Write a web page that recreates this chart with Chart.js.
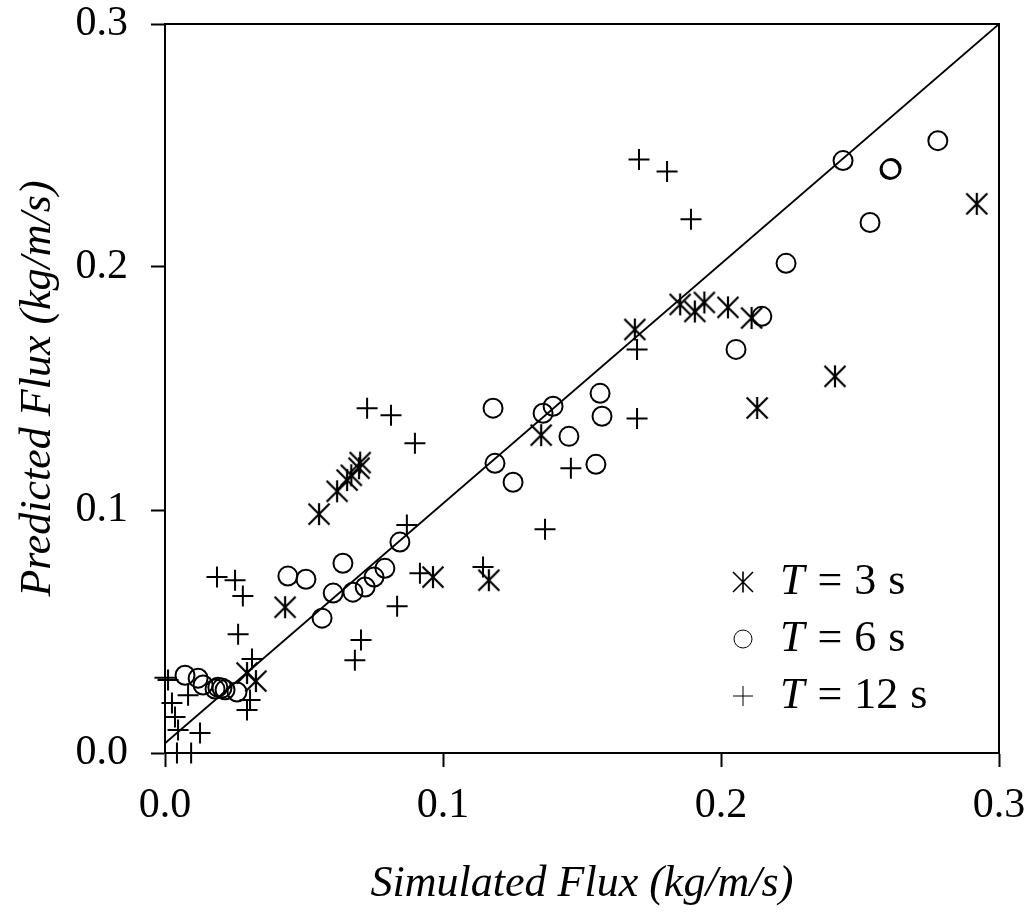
<!DOCTYPE html>
<html>
<head>
<meta charset="utf-8">
<script src="https://cdn.jsdelivr.net/npm/chart.js@4.4.1/dist/chart.umd.min.js"></script>
<style>
  html, body { margin: 0; padding: 0; background: #fff; }
  #wrap { width: 1033px; height: 923px; }
</style>
</head>
<body>
<div id="wrap"><canvas id="fluxChart" width="1033" height="923"></canvas></div>
<script>
// --- data: simulated vs predicted flux (kg/m/s) ---
const t3Sim  = [0.292, 0.241, 0.213, 0.211, 0.2025, 0.194, 0.1906, 0.1853, 0.169, 0.1353, 0.1165, 0.0964, 0.0432, 0.0554, 0.0619, 0.0655, 0.067, 0.0698, 0.0702, 0.0295, 0.0327];
const t3Pred = [0.226, 0.155, 0.142, 0.179, 0.1834, 0.1854, 0.1817, 0.1846, 0.1743, 0.1308, 0.0711, 0.0724, 0.060, 0.0983, 0.1077, 0.1123, 0.1143, 0.1172, 0.1195, 0.0329, 0.0296];

const t6Sim  = [0.278, 0.2439, 0.2608, 0.2612, 0.2536, 0.2234, 0.2147, 0.2054, 0.1565, 0.1572, 0.118, 0.136, 0.1396, 0.1453, 0.155, 0.1187, 0.1252, 0.0845, 0.0442, 0.0507, 0.064, 0.0605, 0.0565, 0.0676, 0.072, 0.0752, 0.0791, 0.0072, 0.0119, 0.0137, 0.018, 0.019, 0.0205, 0.0216, 0.0259];
const t6Pred = [0.252, 0.2438, 0.2401, 0.2405, 0.2183, 0.2015, 0.1797, 0.1661, 0.148, 0.1386, 0.1419, 0.1398, 0.1427, 0.1303, 0.1188, 0.1192, 0.1114, 0.0868, 0.0728, 0.0715, 0.0781, 0.0658, 0.0555, 0.0662, 0.0683, 0.0724, 0.076, 0.032, 0.0308, 0.028, 0.0263, 0.0271, 0.0267, 0.026, 0.0251];

const t12Sim  = [0.1705, 0.1806, 0.1892, 0.1698, 0.1698, 0.146, 0.1367, 0.1144, 0.0727, 0.0813, 0.0899, 0.087, 0.0917, 0.0835, 0.0705, 0.0683, 0.0187, 0.0252, 0.028, 0.0263, 0.0313, 0.0306, 0.0295, 0.0011, 0.0, 0.0083, 0.0036, 0.0047, 0.0126, 0.0025, 0.0043, 0.0094];
const t12Pred = [0.2442, 0.2393, 0.2196, 0.1661, 0.1377, 0.1172, 0.0921, 0.0765, 0.1419, 0.139, 0.1275, 0.0938, 0.074, 0.0604, 0.0465, 0.0382, 0.0724, 0.0711, 0.0646, 0.0489, 0.0387, 0.0218, 0.0177, 0.030, 0.031, 0.0238, 0.0148, 0.0095, 0.0082, 0.0206, 0.0, 0.0];

const oneToOneX = [0, 0.3];
const oneToOneY = [0.004, 0.3];

const axisTicks = [0, 0.1, 0.2, 0.3];
const legendValues = ['3', '6', '12'];

const SERIF = "'Liberation Serif', 'Times New Roman', serif";

function toPoints(xs, ys) {
    return xs.map((x, i) => ({ x: x, y: ys[i] }));
}

// asterisk marker: an X with a vertical bar through it
function makeAsterisk(half, lw) {
    const size = Math.ceil(half * 2 + lw * 2);
    const c = document.createElement('canvas');
    c.width = size;
    c.height = size;
    const g = c.getContext('2d');
    const m = size / 2;
    g.strokeStyle = '#000';
    g.lineWidth = lw;
    g.beginPath();
    g.moveTo(m - half, m - half); g.lineTo(m + half, m + half);
    g.moveTo(m + half, m - half); g.lineTo(m - half, m + half);
    g.moveTo(m, m - half * 1.05); g.lineTo(m, m + half * 1.05);
    g.stroke();
    return c;
}
const starMark = makeAsterisk(10.5, 2.2);
const starMarkSmall = makeAsterisk(10, 1.6);

// frame on top and right of the plot area
const framePlugin = {
    id: 'frame',
    beforeDatasetsDraw(chart) {
        const { ctx, chartArea: a } = chart;
        ctx.save();
        ctx.strokeStyle = '#000';
        ctx.lineWidth = 2;
        ctx.beginPath();
        ctx.moveTo(a.left, a.top);
        ctx.lineTo(a.right, a.top);
        ctx.lineTo(a.right, a.bottom);
        ctx.stroke();
        ctx.restore();
    }
};

// legend with italic T
const legendPlugin = {
    id: 'tLegend',
    afterDraw(chart) {
        const { ctx, chartArea: a } = chart;
        const styles = [
            { pointStyle: starMarkSmall, radius: 10, borderWidth: 1.6 },
            { pointStyle: 'circle', radius: 9, borderWidth: 1.6 },
            { pointStyle: 'cross', radius: 10, borderWidth: 1.6 }
        ];
        const symX = a.left + 578;
        const textX = a.left + 615;
        let y = a.bottom - 171;
        ctx.save();
        ctx.textBaseline = 'middle';
        ctx.strokeStyle = '#000';
        legendValues.forEach((val, i) => {
            ctx.fillStyle = 'rgba(0,0,0,0)';
            Chart.helpers.drawPoint(ctx, Object.assign({ rotation: 0 }, styles[i]), symX, y);
            ctx.fillStyle = '#000';
            ctx.font = 'italic 44px ' + SERIF;
            ctx.fillText('T', textX, y);
            let x = textX + ctx.measureText('T').width + 13;
            ctx.font = '44px ' + SERIF;
            ctx.fillText('=', x, y);
            x += ctx.measureText('=').width + 12;
            ctx.fillText(val, x, y);
            x += ctx.measureText(val).width + 12;
            ctx.fillText('s', x, y);
            y += 57;
        });
        ctx.restore();
    }
};

const ctx = document.getElementById('fluxChart').getContext('2d');
new Chart(ctx, {
    type: 'scatter',
    data: {
        datasets: [
            {
                type: 'line',
                label: '1:1',
                data: toPoints(oneToOneX, oneToOneY),
                borderColor: '#000',
                borderWidth: 1.8,
                pointRadius: 0,
                fill: false
            },
            {
                label: 'T = 3 s',
                data: toPoints(t3Sim, t3Pred),
                pointStyle: starMark,
                pointRadius: 11,
                borderColor: '#000',
                backgroundColor: 'rgba(0,0,0,0)',
                clip: false
            },
            {
                label: 'T = 6 s',
                data: toPoints(t6Sim, t6Pred),
                pointStyle: 'circle',
                pointRadius: 9.5,
                borderWidth: 2,
                borderColor: '#000',
                backgroundColor: 'rgba(0,0,0,0)',
                clip: false
            },
            {
                label: 'T = 12 s',
                data: toPoints(t12Sim, t12Pred),
                pointStyle: 'cross',
                pointRadius: 10.5,
                borderWidth: 2,
                borderColor: '#000',
                clip: false
            }
        ]
    },
    options: {
        responsive: false,
        animation: false,
        layout: { padding: { left: 0, top: 24, right: 34, bottom: 0 } },
        plugins: {
            legend: { display: false },
            tooltip: { enabled: false }
        },
        scales: {
            x: {
                type: 'linear',
                min: 0,
                max: 0.3,
                afterFit(scale) {
                    scale.height = 170;
                    scale.paddingLeft = 0;
                    scale.paddingRight = 0;
                },
                afterBuildTicks(scale) { scale.ticks = axisTicks.map(v => ({ value: v })); },
                ticks: {
                    color: '#000',
                    font: { family: SERIF, size: 42 },
                    padding: 14,
                    maxRotation: 0,
                    callback: v => v.toFixed(1)
                },
                grid: { drawOnChartArea: false, drawTicks: true, tickLength: 14, tickColor: '#000', tickWidth: 2 },
                border: { display: true, color: '#000', width: 2 },
                title: {
                    display: true,
                    text: 'Simulated Flux (kg/m/s)',
                    color: '#000',
                    font: { family: SERIF, size: 44, style: 'italic' },
                    padding: { top: 0, bottom: 12 }
                }
            },
            y: {
                type: 'linear',
                min: 0,
                max: 0.3,
                afterFit(scale) {
                    scale.width = 165;
                    scale.paddingTop = 0;
                    scale.paddingBottom = 0;
                },
                afterBuildTicks(scale) { scale.ticks = axisTicks.map(v => ({ value: v })); },
                ticks: {
                    color: '#000',
                    font: { family: SERIF, size: 42 },
                    padding: 23,
                    callback: v => v.toFixed(1)
                },
                grid: { drawOnChartArea: false, drawTicks: true, tickLength: 14, tickColor: '#000', tickWidth: 2 },
                border: { display: true, color: '#000', width: 2 },
                title: {
                    display: true,
                    text: 'Predicted Flux (kg/m/s)',
                    color: '#000',
                    font: { family: SERIF, size: 44, style: 'italic' },
                    padding: { top: 12, bottom: 0 }
                }
            }
        }
    },
    plugins: [framePlugin, legendPlugin]
});
</script>
</body>
</html>
